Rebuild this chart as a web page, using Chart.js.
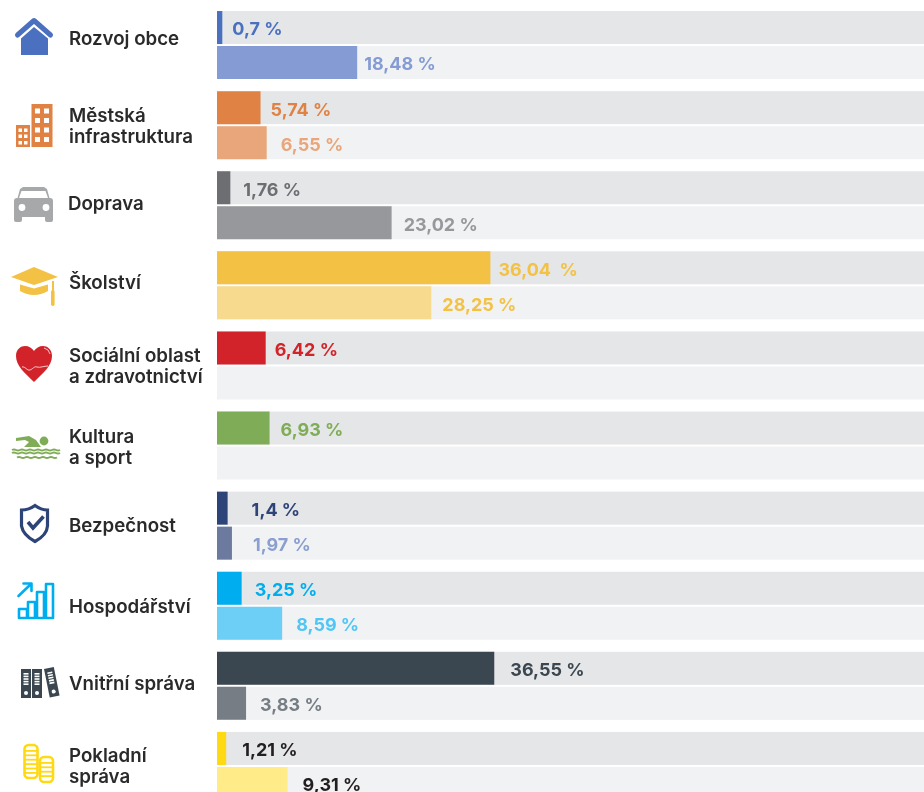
<!DOCTYPE html>
<html lang="cs">
<head>
<meta charset="utf-8">
<title>Rozpočet podle oblastí</title>
<script src="https://cdn.jsdelivr.net/npm/chart.js@4"></script>
<style>
  html, body { margin: 0; padding: 0; background: #fff; overflow: hidden; }
  canvas { display: block; }
</style>
</head>
<body>
<canvas id="chart" width="924" height="812"></canvas>
<script>
// Data:
const categories = [
    ['Rozvoj obce'], ['Městská', 'infrastruktura'], ['Doprava'], ['Školství'],
    ['Sociální oblast', 'a zdravotnictví'], ['Kultura', 'a sport'], ['Bezpečnost'],
    ['Hospodářství'], ['Vnitřní správa'], ['Pokladní', 'správa']
];
const upperValues = [0.7, 5.74, 1.76, 36.04, 6.42, 6.93, 1.4, 3.25, 36.55, 1.21];
const lowerValues = [18.48, 6.55, 23.02, 28.25, null, null, 1.97, 8.59, 3.83, 9.31];
const upperLabels = ['0,7 %', '5,74 %', '1,76 %', '36,04  %', '6,42 %', '6,93 %', '1,4 %', '3,25 %', '36,55 %', '1,21 %'];
const lowerLabels = ['18,48 %', '6,55 %', '23,02 %', '28,25 %', '', '', '1,97 %', '8,59 %', '3,83 %', '9,31 %'];
const axisMax = 93.2;

// Colours:
const upperColors = ['#4a70bf', '#e08243', '#6d6e71', '#f3c143', '#d2232a', '#7fad57', '#2c4478', '#00aeef', '#3a4750', '#ffd911'];
const lowerColors = ['#849bd4', '#e8a67a', '#97989b', '#f8da8e', '#fff', '#fff', '#6b7a9e', '#6dcff6', '#767d84', '#ffec88'];
const upperText = ['#4a70bf', '#e08243', '#6d6e71', '#f3c143', '#d2232a', '#7fad57', '#2c4478', '#00aeef', '#3a4750', '#231f20'];
const lowerText = ['#849bd4', '#e8a67a', '#97989b', '#f3c143', '#fff', '#fff', '#8a9fd0', '#4fc6f5', '#767d84', '#231f20'];
const trackColors = ['#e5e6e8', '#f1f2f4'];

// Layout of the texts beside the bars:
const upperGaps = [10, 10, 13, 8, 9, 11, 24, 13, 16, 16];
const lowerGaps = [7, 14, 12, 11, 0, 0, 21, 14, 14, 15];
const nameOffsets = [-6, 2, -1, -2, 1, 2, 1, 2, -1, 1];
const nameFont = '600 18.7px Inter, sans-serif';
const valueFont = '700 18px Inter, sans-serif';

// Icons, one per row:
const fillPath = (ctx, color, points) => {
    ctx.fillStyle = color;
    ctx.beginPath();
    points.forEach((p, i) => i ? ctx.lineTo(p[0], p[1]) : ctx.moveTo(p[0], p[1]));
    ctx.closePath();
    ctx.fill();
};

const icons = [
    (ctx) => { // house
        const c = upperColors[0];
        fillPath(ctx, c, [[34, 27], [48, 38.5], [48, 55], [21, 55], [21, 38.5]]);
        ctx.strokeStyle = c;
        ctx.lineWidth = 5;
        ctx.lineCap = 'round';
        ctx.lineJoin = 'round';
        ctx.beginPath();
        ctx.moveTo(17.5, 35);
        ctx.lineTo(34, 20.5);
        ctx.lineTo(50.5, 35);
        ctx.stroke();
    },
    (ctx) => { // buildings
        const c = upperColors[1];
        ctx.fillStyle = c;
        ctx.fillRect(31.5, 104, 21, 43);
        ctx.fillRect(16, 125, 14, 22);
        ctx.fillStyle = '#fff';
        [108.5, 118, 127.5, 137].forEach((y) => {
            ctx.fillRect(35, y, 5, 5);
            ctx.fillRect(44, y, 5, 5);
        });
        [128.5, 134.5, 141].forEach((y) => {
            ctx.fillRect(18.5, y, 3.5, 3.5);
            ctx.fillRect(24, y, 3.5, 3.5);
        });
    },
    (ctx) => { // car
        const c = '#a7a8aa';
        ctx.fillStyle = c;
        ctx.beginPath();
        ctx.roundRect(14, 198, 39, 19, 3);
        ctx.fill();
        ctx.beginPath();
        ctx.roundRect(14, 212, 8, 10, 2);
        ctx.roundRect(45, 212, 8, 10, 2);
        ctx.fill();
        fillPath(ctx, c, [[17, 200], [20, 189], [23, 187], [44, 187], [47, 189], [50, 200]]);
        fillPath(ctx, '#fff', [[19, 198], [21.5, 191], [45.5, 191], [48, 198]]);
        ctx.beginPath();
        ctx.arc(22, 207.5, 3.4, 0, Math.PI * 2);
        ctx.arc(46, 207.5, 3.4, 0, Math.PI * 2);
        ctx.fill();
    },
    (ctx) => { // graduation cap
        const c = upperColors[3];
        ctx.fillStyle = c;
        ctx.beginPath();
        ctx.moveTo(20, 284.5);
        ctx.lineTo(34, 288.5);
        ctx.lineTo(48, 284.5);
        ctx.lineTo(48, 291);
        ctx.quadraticCurveTo(34, 299, 20, 291);
        ctx.closePath();
        ctx.fill();
        fillPath(ctx, c, [[11, 277], [34, 267], [58, 277], [34, 285]]);
        ctx.fillRect(52, 281, 2, 10);
        ctx.beginPath();
        ctx.roundRect(51, 290, 3.6, 16, 1.8);
        ctx.fill();
    },
    (ctx) => { // heart
        ctx.fillStyle = upperColors[4];
        ctx.beginPath();
        ctx.moveTo(34, 382);
        ctx.bezierCurveTo(25, 373, 16, 366, 16, 356);
        ctx.bezierCurveTo(16, 349, 21, 346, 25, 346);
        ctx.bezierCurveTo(29, 346, 32, 348, 34, 351);
        ctx.bezierCurveTo(36, 348, 39, 346, 43, 346);
        ctx.bezierCurveTo(47, 346, 52, 349, 52, 356);
        ctx.bezierCurveTo(52, 366, 43, 373, 34, 382);
        ctx.fill();
        ctx.strokeStyle = '#f3c6c8';
        ctx.lineWidth = 1;
        ctx.beginPath();
        ctx.moveTo(22, 367);
        ctx.bezierCurveTo(25, 366, 27, 371, 30, 370);
        ctx.bezierCurveTo(33, 369, 34, 366, 37, 367);
        ctx.bezierCurveTo(40, 368, 44, 366, 48, 366);
        ctx.moveTo(44, 348);
        ctx.quadraticCurveTo(49, 349, 50, 354);
        ctx.stroke();
    },
    (ctx) => { // swimmer
        const c = upperColors[5];
        ctx.fillStyle = c;
        ctx.beginPath();
        ctx.arc(44, 441, 4.4, 0, Math.PI * 2);
        ctx.fill();
        fillPath(ctx, c, [[16, 438], [29, 436], [36, 440], [41, 447], [24, 447], [29, 442], [25, 440], [16, 441]]);
        ctx.strokeStyle = c;
        ctx.lineWidth = 2;
        [[12, 57, 450], [12, 57, 453], [17, 50, 457.5]].forEach((w) => {
            ctx.beginPath();
            ctx.moveTo(w[0], w[2]);
            for (let x = w[0]; x < w[1]; x += 8) {
                ctx.quadraticCurveTo(x + 2, w[2] - 1.2, x + 4, w[2]);
                ctx.quadraticCurveTo(x + 6, w[2] + 1.2, x + 8, w[2]);
            }
            ctx.stroke();
        });
    },
    (ctx) => { // shield
        const c = upperColors[6];
        ctx.strokeStyle = c;
        ctx.lineWidth = 3.2;
        ctx.lineJoin = 'miter';
        ctx.beginPath();
        ctx.moveTo(35, 505.5);
        ctx.quadraticCurveTo(41, 510, 47.5, 510);
        ctx.lineTo(47.5, 526);
        ctx.quadraticCurveTo(47, 535, 35, 541.5);
        ctx.quadraticCurveTo(23, 535, 21.5, 526);
        ctx.lineTo(21.5, 510);
        ctx.quadraticCurveTo(29, 510, 35, 505.5);
        ctx.closePath();
        ctx.stroke();
        ctx.lineWidth = 3.6;
        ctx.beginPath();
        ctx.moveTo(28, 522);
        ctx.lineTo(33, 528);
        ctx.lineTo(43.5, 516.5);
        ctx.stroke();
    },
    (ctx) => { // growth chart
        const c = upperColors[7];
        ctx.strokeStyle = c;
        ctx.lineWidth = 2.6;
        ctx.lineJoin = 'round';
        ctx.lineCap = 'butt';
        [[19, 609, 8], [28, 602, 7], [37, 592, 7], [46, 584, 7]].forEach((b) => {
            ctx.strokeRect(b[0], b[1], b[2], 618 - b[1]);
        });
        ctx.lineCap = 'round';
        ctx.beginPath();
        ctx.moveTo(18.5, 596);
        ctx.lineTo(31, 584);
        ctx.moveTo(23.5, 583.5);
        ctx.lineTo(31.5, 583.5);
        ctx.lineTo(31.5, 591);
        ctx.stroke();
    },
    (ctx) => { // binders
        const c = upperColors[8];
        const binder = (x, y, angle) => {
            ctx.save();
            ctx.translate(x, y);
            ctx.rotate(angle);
            ctx.fillStyle = c;
            ctx.fillRect(0, 0, 10, 29);
            ctx.fillStyle = '#fff';
            for (let i = 0; i < 5; i++) {
                ctx.fillRect(2.5, 4 + i * 2.6, 5, 1.6);
            }
            ctx.beginPath();
            ctx.arc(5, 24, 2, 0, Math.PI * 2);
            ctx.fill();
            ctx.restore();
        };
        binder(21, 669, 0);
        binder(32, 669, 0);
        binder(44, 669, -0.2);
    },
    (ctx) => { // coins
        const c = upperColors[9];
        const stack = (x, top, bottom) => {
            ctx.strokeStyle = c;
            ctx.lineWidth = 2.6;
            ctx.beginPath();
            ctx.roundRect(x, top, 13, bottom - top, 4);
            ctx.stroke();
            ctx.fillStyle = c;
            for (let y = top + 5; y < bottom - 3; y += 4.4) {
                ctx.fillRect(x, y, 13, 1.8);
            }
        };
        stack(24.5, 745, 778);
        stack(40, 757, 782);
    }
];

// Grey tracks behind the bars, taken from the bar elements themselves:
const trackPlugin = {
    id: 'tracks',
    beforeDatasetsDraw(chart) {
        const { ctx, chartArea } = chart;
        ctx.save();
        chart.data.datasets.forEach((set, d) => {
            ctx.fillStyle = trackColors[d];
            chart.getDatasetMeta(d).data.forEach((bar) => {
                ctx.fillRect(chartArea.left, bar.y - bar.height / 2, chartArea.width, bar.height);
            });
        });
        ctx.restore();
    }
};

// Value labels, category names and icons:
const textPlugin = {
    id: 'texts',
    afterDatasetsDraw(chart) {
        const { ctx, scales } = chart;
        const labels = [upperLabels, lowerLabels];
        const gaps = [upperGaps, lowerGaps];
        const colors = [upperText, lowerText];
        ctx.save();
        ctx.textBaseline = 'middle';
        ctx.textAlign = 'left';
        ctx.font = valueFont;
        chart.data.datasets.forEach((set, d) => {
            chart.getDatasetMeta(d).data.forEach((bar, i) => {
                if (!labels[d][i]) return;
                ctx.fillStyle = colors[d][i];
                ctx.fillText(labels[d][i], bar.x + gaps[d][i], bar.y + 2.5);
            });
        });
        ctx.font = nameFont;
        ctx.fillStyle = '#2b2a2b';
        chart.data.labels.forEach((name, i) => {
            const y = scales.y.getPixelForValue(i) + nameOffsets[i];
            const x = i === 2 ? 68 : 69;
            name.forEach((line, l) => {
                ctx.fillText(line, x, y + (l - (name.length - 1) / 2) * 21);
            });
        });
        icons.forEach((draw) => {
            ctx.save();
            draw(ctx);
            ctx.restore();
        });
        ctx.restore();
    }
};

new Chart(document.getElementById('chart'), {
    type: 'bar',
    data: {
        labels: categories,
        datasets: [
            { label: 'upper', data: upperValues, backgroundColor: upperColors },
            { label: 'lower', data: lowerValues, backgroundColor: lowerColors }
        ]
    },
    options: {
        indexAxis: 'y',
        responsive: false,
        animation: false,
        layout: { padding: { left: 217, right: 0, top: 5, bottom: 6 } },
        datasets: { bar: { categoryPercentage: 0.874, barPercentage: 0.943 } },
        plugins: { legend: { display: false }, tooltip: { enabled: false } },
        scales: {
            x: { display: false, min: 0, max: axisMax },
            y: { display: false }
        }
    },
    plugins: [trackPlugin, textPlugin]
});
</script>
</body>
</html>
